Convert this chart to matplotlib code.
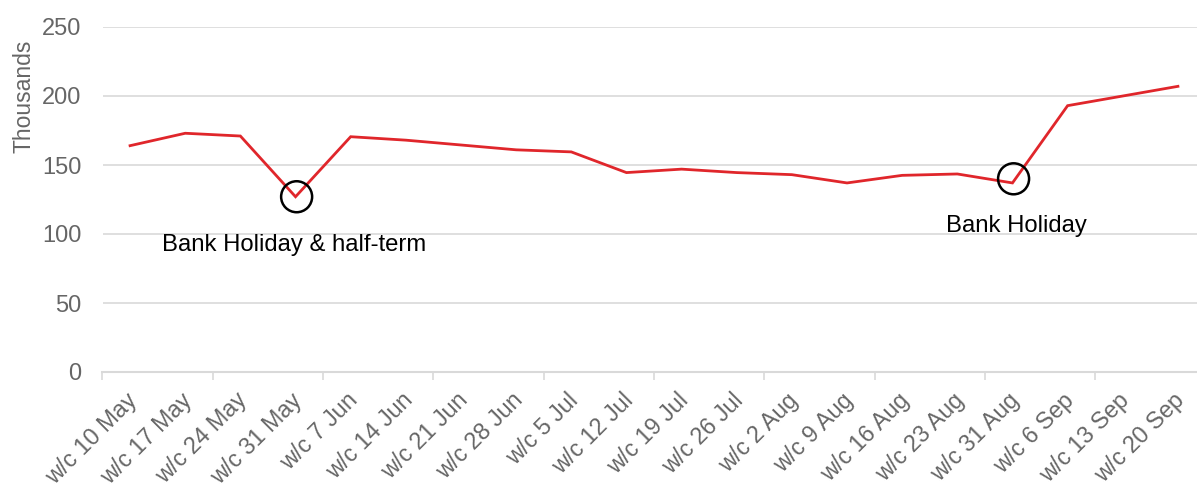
import matplotlib.pyplot as plt
import matplotlib.transforms as mtransforms
from matplotlib.patches import Ellipse

plt.rcParams['font.family'] = ['Liberation Sans', 'DejaVu Sans']

weeks = ['w/c 10 May', 'w/c 17 May', 'w/c 24 May', 'w/c 31 May', 'w/c 7 Jun',
         'w/c 14 Jun', 'w/c 21 Jun', 'w/c 28 Jun', 'w/c 5 Jul', 'w/c 12 Jul',
         'w/c 19 Jul', 'w/c 26 Jul', 'w/c 2 Aug', 'w/c 9 Aug', 'w/c 16 Aug',
         'w/c 23 Aug', 'w/c 31 Aug', 'w/c 6 Sep', 'w/c 13 Sep', 'w/c 20 Sep']
values = [164, 173, 171, 127, 170.5, 168, 164.5, 161, 159.5, 144.5,
          147, 144.5, 143, 137, 142.5, 143.5, 137, 193, 200, 207]

notes = ['Bank Holiday & half-term', 'Bank Holiday']
note_idx = [3, 16]

grey = '#666666'
grid_col = '#d9d9d9'

fig = plt.figure(figsize=(11.97, 4.88), dpi=100)
W, H = 1197, 488
ax = fig.add_axes([102.5 / W, (H - 372) / H, 1103 / W, 345 / H])

x = list(range(len(weeks)))
ax.plot(x, values, color='#e0262b', lw=2.0, solid_joinstyle='miter', zorder=3)

ax.set_xlim(-0.5, len(weeks) - 0.5)
ax.set_ylim(0, 250)
ax.set_yticks(range(0, 251, 50))
ax.grid(axis='y', color=grid_col, lw=1.2)
ax.set_axisbelow(True)
for s in ['top', 'right', 'left']:
    ax.spines[s].set_visible(False)
ax.spines['bottom'].set_color(grid_col)
ax.spines['bottom'].set_linewidth(1.5)

ax.tick_params(axis='y', length=0, pad=15, labelsize=17, labelcolor=grey)
ax.set_xticks([i - 0.5 for i in range(0, len(weeks), 2)])
ax.set_xticklabels([])
ax.set_xticks(x, minor=True)
ax.set_xticklabels(weeks, minor=True, rotation=45, ha='right', va='top',
                   rotation_mode='anchor', fontsize=16.8, color=grey)
ax.tick_params(axis='x', which='major', length=6, width=1.2, color=grid_col)
ax.tick_params(axis='x', which='minor', length=0, pad=12)
shift = mtransforms.ScaledTranslation(-5 / 100, 0, fig.dpi_scale_trans)
for lab in ax.get_xticklabels(minor=True):
    lab.set_transform(lab.get_transform() + shift)

ax.set_ylabel('Thousands', fontsize=16.5, color=grey)
ax.yaxis.set_label_coords(-0.061, 0.8)

# circles round the two holiday dips, about 31 px across
circle_y = [values[3], values[16] + 3]
for i, cy in zip(note_idx, circle_y):
    circ = Ellipse((i + 0.02, cy), width=31 / 55.15, height=31 * 250 / 345,
                   fill=False, ec='black', lw=1.8, zorder=4, clip_on=False)
    ax.add_patch(circ)

ax.text(0.58, 92, notes[0], fontsize=17.2, color='black', ha='left', va='center')
ax.text(16.07, 106, notes[1], fontsize=17.2, color='black', ha='center', va='center')

fig.savefig('out.png', dpi=100)
